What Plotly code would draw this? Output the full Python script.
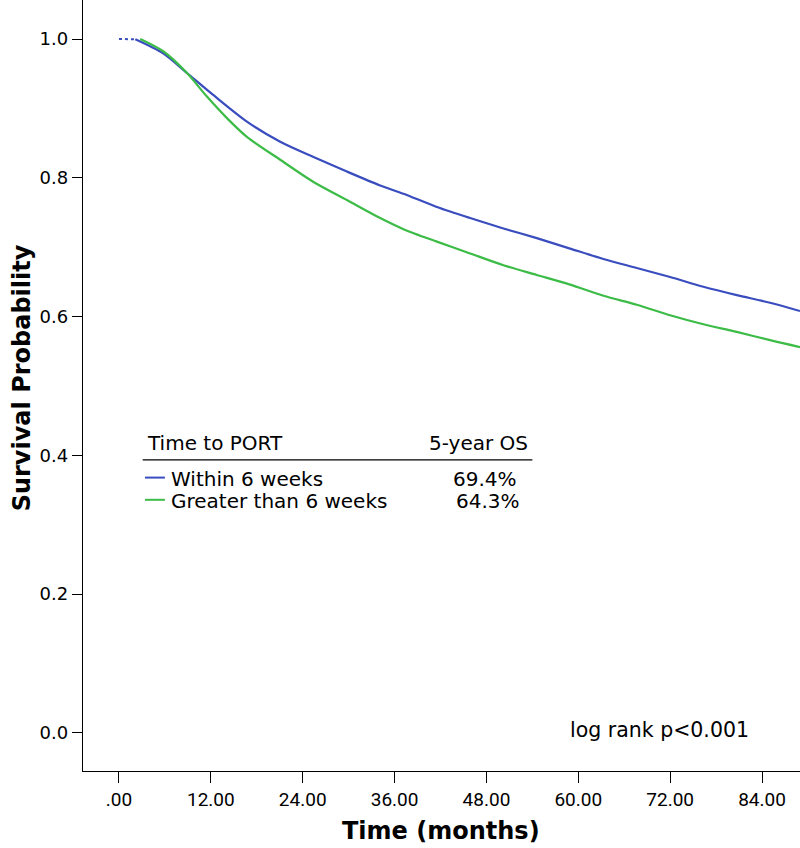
import plotly.graph_objects as go

# ---- data ----
months_blue_dot = [0.0, 2.13]
surv_blue_dot = [1.0, 0.9996]

months_blue = [2.13, 5.82, 8.88, 12.35, 16.71, 21.06, 25.41, 29.77, 34.12, 37.16,
               41.52, 45.87, 50.22, 54.58, 58.93, 63.28, 67.64, 71.99, 76.34,
               80.70, 85.05, 88.96]
surv_blue = [0.9996, 0.979, 0.951, 0.919, 0.881, 0.852, 0.830, 0.809, 0.789, 0.777,
             0.758, 0.742, 0.727, 0.713, 0.698, 0.683, 0.670, 0.657, 0.643,
             0.631, 0.620, 0.608]

months_green = [2.78, 5.82, 8.88, 11.49, 14.10, 16.71, 21.06, 25.41, 29.77, 34.12,
                37.16, 41.52, 45.87, 50.22, 54.58, 58.93, 63.28, 67.64, 71.99,
                76.34, 80.70, 85.05, 88.96]
surv_green = [1.0, 0.982, 0.951, 0.917, 0.886, 0.859, 0.826, 0.794, 0.768, 0.742,
              0.726, 0.708, 0.691, 0.674, 0.660, 0.646, 0.630, 0.617, 0.602,
              0.589, 0.578, 0.566, 0.556]

group_names = ["Within 6 weeks", "Greater than 6 weeks"]
five_year_os = ["69.4%", "64.3%"]
legend_headers = ["Time to PORT", "5-year OS"]
x_tick_vals = [0, 12, 24, 36, 48, 60, 72, 84]
x_tick_text = [".00", "12.00", "24.00", "36.00", "48.00", "60.00", "72.00", "84.00"]
y_tick_vals = [0.0, 0.2, 0.4, 0.6, 0.8, 1.0]
y_tick_text = ["0.0", "0.2", "0.4", "0.6", "0.8", "1.0"]
p_text = "log rank p<0.001"

BLUE = "#3A4DBF"
GREEN = "#3CBC47"
TXT = "DejaVu Sans, Liberation Sans, sans-serif"
COND = "Roboto, Liberation Sans, sans-serif"
TITLE = "DejaVu Sans, sans-serif"

fig = go.Figure()
fig.add_trace(go.Scatter(x=months_blue_dot, y=surv_blue_dot, mode="lines",
                         line=dict(color=BLUE, width=2, dash="dot"),
                         showlegend=False, hoverinfo="skip"))
fig.add_trace(go.Scatter(x=months_blue, y=surv_blue, mode="lines",
                         line=dict(color=BLUE, width=2.2, shape="spline", smoothing=0.8),
                         name=group_names[0], showlegend=False))
fig.add_trace(go.Scatter(x=months_green, y=surv_green, mode="lines",
                         line=dict(color=GREEN, width=2.2, shape="spline", smoothing=0.8),
                         name=group_names[1], showlegend=False))

# ---- custom legend table ----
LEG = 20
ann = []
ann.append(dict(x=3.43, y=0.418, xref="x", yref="y", text=legend_headers[0],
                xanchor="left", yanchor="middle", showarrow=False,
                font=dict(family=TXT, size=LEG, color="black")))
ann.append(dict(x=53.7, y=0.418, xref="x", yref="y", text=legend_headers[1],
                xanchor="right", yanchor="middle", showarrow=False,
                font=dict(family=TXT, size=LEG, color="black")))
row_y = [0.366, 0.334]
row_colors = [BLUE, GREEN]
val_right = [52.2, 52.7]
shapes = []
shapes.append(dict(type="line", xref="x", yref="y", x0=3.1, x1=54.0,
                   y0=0.3934, y1=0.3934, line=dict(color="black", width=1.3)))
for i in range(2):
    shapes.append(dict(type="line", xref="x", yref="y", x0=3.4, x1=6.0,
                       y0=row_y[i] + 0.002, y1=row_y[i] + 0.002,
                       line=dict(color=row_colors[i], width=2)))
    ann.append(dict(x=6.5, y=row_y[i], xref="x", yref="y", text=group_names[i],
                    xanchor="left", yanchor="middle", showarrow=False,
                    font=dict(family=TXT, size=LEG, color="black")))
    ann.append(dict(x=val_right[i], y=row_y[i], xref="x", yref="y", text=five_year_os[i],
                    xanchor="right", yanchor="middle", showarrow=False,
                    font=dict(family=TXT, size=LEG, color="black")))

ann.append(dict(x=58.6, y=0.004, xref="x", yref="y", text=p_text,
                xanchor="left", yanchor="middle", showarrow=False,
                font=dict(family=TXT, size=20.5, color="black")))

# axis titles
ann.append(dict(x=-0.0846, y=0.5097, xref="paper", yref="paper",
                text="<b>Survival Probability</b>", textangle=-90,
                xanchor="center", yanchor="middle", showarrow=False,
                font=dict(family=TITLE, size=24, color="black")))
ann.append(dict(x=0.4995, y=-0.0778, xref="paper", yref="paper",
                text="<b>Time (months)</b>",
                xanchor="center", yanchor="middle", showarrow=False,
                font=dict(family=TITLE, size=24, color="black")))

fig.update_layout(
    width=800, height=848,
    margin=dict(l=83, r=0, t=0, b=77),
    paper_bgcolor="white", plot_bgcolor="white",
    annotations=ann, shapes=shapes,
    xaxis=dict(range=[-4.7, 88.96], tickvals=x_tick_vals, ticktext=x_tick_text,
               showgrid=False, zeroline=False, showline=True, linecolor="black",
               linewidth=1.3, ticks="outside", ticklen=11, tickwidth=1.3,
               tickcolor="black",
               tickfont=dict(family=COND, size=19, color="black")),
    yaxis=dict(range=[-0.0548, 1.0562], tickvals=y_tick_vals, ticktext=y_tick_text,
               showgrid=False, zeroline=False, showline=True, linecolor="black",
               linewidth=1.3, ticks="outside", ticklen=10, tickwidth=1.3,
               tickcolor="black",
               tickfont=dict(family=TXT, size=18, color="black")),
)

fig.write_html("out.html", config={"displayModeBar": False})

# remove the default page margin so the 800x848 figure fills the window exactly
with open("out.html", "r", encoding="utf-8") as f:
    html = f.read()
html = html.replace("<head>", "<head><style>html,body{margin:0;padding:0;overflow:hidden;}</style>", 1)
with open("out.html", "w", encoding="utf-8") as f:
    f.write(html)
